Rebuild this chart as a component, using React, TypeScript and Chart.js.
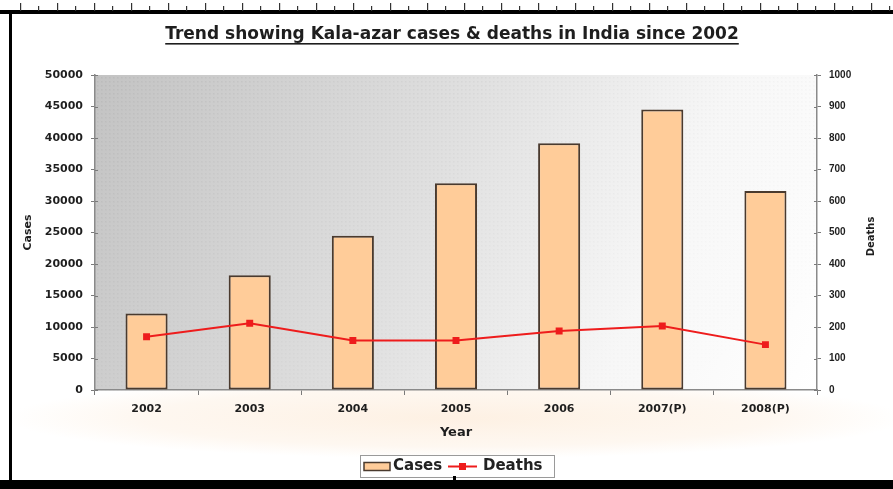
import { useEffect, useRef } from "react";
import { Chart, registerables } from "chart.js";

Chart.register(...registerables);

// Kala-azar in India, yearly totals
const years = ["2002", "2003", "2004", "2005", "2006", "2007(P)", "2008(P)"];
const cases = [12140, 18214, 24479, 32803, 39173, 44533, 31600];
const deaths = [169, 212, 157, 157, 187, 203, 144];

// axis ranges
const casesAxis = { min: 0, max: 50000, step: 5000 };
const deathsAxis = { min: 0, max: 1000, step: 100 };

const TITLE = "Trend showing Kala-azar cases & deaths in India since 2002";
const WIDE = "'DejaVu Sans', sans-serif";
const ARIAL = "'Liberation Sans', Arial, sans-serif";
const BAR_FILL = "#FFCC99";
const BAR_EDGE = "#4a3a2e";
const LINE_RED = "#ee1c1c";

const W = 893;
const H = 489;

const plain = (v: number | string) => String(v);

// page background, plot-area gradient and the picture frame
const decorPlugin = {
  id: "decor",
  beforeDraw(chart: Chart) {
    const { ctx, chartArea: a } = chart;
    ctx.save();
    ctx.fillStyle = "#ffffff";
    ctx.fillRect(0, 0, W, H);

    // faint warm wash round the category labels, fading out at every edge
    ctx.save();
    ctx.beginPath();
    ctx.rect(12, 0, W - 12, H);
    ctx.clip();
    const cxw = (a.left + a.right) / 2;
    ctx.translate(cxw, a.bottom + 28);
    ctx.scale(1, 0.09);
    const wash = ctx.createRadialGradient(0, 0, 0, 0, 0, 450);
    wash.addColorStop(0, "rgba(253,238,222,0.85)");
    wash.addColorStop(0.7, "rgba(253,240,226,0.5)");
    wash.addColorStop(1, "rgba(253,240,226,0)");
    ctx.fillStyle = wash;
    ctx.fillRect(-450, -450, 900, 900);
    ctx.restore();

    // plot area: grey in the upper left fading to white at lower right
    const g = ctx.createLinearGradient(a.left, a.top, a.right, a.bottom);
    g.addColorStop(0, "#c3c3c3");
    g.addColorStop(0.45, "#e0e0e0");
    g.addColorStop(0.75, "#f7f7f7");
    g.addColorStop(1, "#ffffff");
    ctx.fillStyle = g;
    ctx.fillRect(a.left, a.top, a.right - a.left, a.bottom - a.top);

    // halftone dots, densest in the upper left
    for (let y = a.top + 2; y < a.bottom; y += 4) {
      for (let x = a.left + 2; x < a.right; x += 4) {
        const t = (x - a.left) / (a.right - a.left) * 0.6 + (y - a.top) / (a.bottom - a.top) * 0.4;
        const alpha = 0.08 * (1 - t);
        if (alpha <= 0.01) continue;
        ctx.fillStyle = `rgba(90,90,90,${alpha.toFixed(3)})`;
        ctx.fillRect(x, y, 1.5, 1.5);
      }
    }
    ctx.restore();
  },
  afterDraw(chart: Chart) {
    const { ctx, chartArea: a } = chart;
    ctx.save();

    // inner halves of the value-axis tick marks
    ctx.strokeStyle = "#7a7a7a";
    ctx.lineWidth = 1;
    const yl = chart.scales.y;
    const yr = chart.scales.y1;
    yl.ticks.forEach((t) => {
      const py = Math.round(yl.getPixelForValue(t.value)) + 0.5;
      ctx.beginPath();
      ctx.moveTo(a.left, py);
      ctx.lineTo(a.left + 3, py);
      ctx.stroke();
    });
    yr.ticks.forEach((t) => {
      const py = Math.round(yr.getPixelForValue(t.value)) + 0.5;
      ctx.beginPath();
      ctx.moveTo(a.right - 3, py);
      ctx.lineTo(a.right, py);
      ctx.stroke();
    });

    // chart title, underlined
    ctx.fillStyle = "#1e1e1e";
    ctx.font = `bold 17px ${WIDE}`;
    ctx.textAlign = "center";
    ctx.textBaseline = "alphabetic";
    const cx = 452;
    ctx.fillText(TITLE, cx, 39);
    const tw = ctx.measureText(TITLE).width;
    ctx.fillRect(cx - tw / 2, 43, tw, 1.6);

    // axis titles
    ctx.textBaseline = "middle";
    ctx.font = `bold 13px ${WIDE}`;
    ctx.fillText("Year", (a.left + a.right) / 2, 433);

    const midY = (a.top + a.bottom) / 2;
    ctx.save();
    ctx.translate(28, midY);
    ctx.rotate(-Math.PI / 2);
    ctx.font = `bold 11px ${WIDE}`;
    ctx.fillText("Cases", 0, 0);
    ctx.restore();

    ctx.save();
    ctx.translate(871, midY + 4);
    ctx.rotate(-Math.PI / 2);
    ctx.font = `bold 10px ${WIDE}`;
    ctx.fillText("Deaths", 0, 0);
    ctx.restore();

    // legend
    const lx = 360, ly = 455, lw = 194, lh = 22;
    ctx.fillStyle = "#ffffff";
    ctx.fillRect(lx, ly, lw, lh);
    ctx.strokeStyle = "#9a9a9a";
    ctx.lineWidth = 1;
    ctx.strokeRect(lx + 0.5, ly + 0.5, lw, lh);
    const my = ly + lh / 2 + 0.5;
    ctx.fillStyle = BAR_FILL;
    ctx.fillRect(364, my - 4, 26, 8);
    ctx.strokeStyle = BAR_EDGE;
    ctx.lineWidth = 1.5;
    ctx.strokeRect(364, my - 4, 26, 8);
    ctx.fillStyle = "#222";
    ctx.font = `bold 15px ${WIDE}`;
    ctx.textAlign = "left";
    ctx.fillText("Cases", 393, my);
    ctx.strokeStyle = LINE_RED;
    ctx.lineWidth = 2;
    ctx.beginPath();
    ctx.moveTo(448, my);
    ctx.lineTo(477, my);
    ctx.stroke();
    ctx.fillStyle = LINE_RED;
    ctx.fillRect(459, my - 3.5, 7, 7);
    ctx.fillStyle = "#222";
    ctx.fillText("Deaths", 483, my);

    // picture frame: heavy black rules with a ruler edge on top
    ctx.fillStyle = "#000";
    ctx.fillRect(0, 10, W, 4);
    ctx.fillRect(9, 10, 3, H - 10);
    ctx.fillRect(0, 480, W, 9);
    ctx.fillStyle = "#333";
    for (let x = 20; x < W; x += 37) {
      ctx.fillRect(x, 3, 1.2, 8);
      ctx.fillRect(x + 18, 6, 1.2, 5);
    }
    ctx.fillStyle = "#000";
    ctx.fillRect(453, 476, 3, 5);
    ctx.restore();
  },
};

export default function App() {
  const ref = useRef<HTMLCanvasElement | null>(null);

  useEffect(() => {
    const canvas = ref.current;
    if (!canvas) return;
    const chart = new Chart(canvas, {
      type: "bar",
      data: {
        labels: years,
        datasets: [
          {
            type: "line",
            label: "Deaths",
            data: deaths,
            yAxisID: "y1",
            borderColor: LINE_RED,
            backgroundColor: LINE_RED,
            borderWidth: 2,
            pointStyle: "rect",
            pointRadius: 3.5,
            pointBackgroundColor: LINE_RED,
            pointBorderColor: LINE_RED,
            tension: 0,
            order: 1,
          },
          {
            type: "bar",
            label: "Cases",
            data: cases,
            yAxisID: "y",
            backgroundColor: BAR_FILL,
            borderColor: BAR_EDGE,
            borderWidth: 2,
            borderSkipped: false,
            categoryPercentage: 0.8,
            barPercentage: 0.51,
            order: 2,
          },
        ],
      },
      options: {
        responsive: false,
        animation: false,
        devicePixelRatio: 1,
        layout: { padding: { top: 75, left: 0, right: 0, bottom: 0 } },
        plugins: {
          legend: { display: false },
          title: { display: false },
          tooltip: { enabled: false },
        },
        scales: {
          x: {
            offset: true,
            grid: {
              display: true,
              offset: true,
              drawOnChartArea: false,
              drawTicks: true,
              tickLength: 5,
              color: "#7a7a7a",
            },
            border: { display: true, color: "#8a8a8a", width: 1.5 },
            ticks: {
              color: "#1e1e1e",
              font: { family: WIDE, size: 11, weight: "bold" },
              padding: 8,
              maxRotation: 0,
              autoSkip: false,
            },
            afterFit: (s: any) => {
              s.height = 99;
            },
          },
          y: {
            position: "left",
            min: casesAxis.min,
            max: casesAxis.max,
            grid: {
              display: true,
              drawOnChartArea: false,
              drawTicks: true,
              tickLength: 4,
              color: "#7a7a7a",
            },
            border: { display: true, color: "#8a8a8a", width: 1.5 },
            ticks: {
              stepSize: casesAxis.step,
              color: "#1e1e1e",
              font: { family: WIDE, size: 11, weight: "bold" },
              padding: 8,
              callback: plain,
            },
            afterFit: (s: any) => {
              s.width = 95;
            },
          },
          y1: {
            position: "right",
            min: deathsAxis.min,
            max: deathsAxis.max,
            grid: {
              display: true,
              drawOnChartArea: false,
              drawTicks: true,
              tickLength: 4,
              color: "#7a7a7a",
            },
            border: { display: true, color: "#8a8a8a", width: 1.5 },
            ticks: {
              stepSize: deathsAxis.step,
              color: "#1e1e1e",
              font: { family: ARIAL, size: 10, weight: "bold" },
              padding: 8,
              callback: plain,
            },
            afterFit: (s: any) => {
              s.width = 76;
            },
          },
        },
      },
      plugins: [decorPlugin],
    });
    return () => chart.destroy();
  }, []);

  return (
    <div style={{ position: "absolute", left: 0, top: 0, width: W, height: H, background: "#fff" }}>
      <canvas ref={ref} width={W} height={H} style={{ display: "block", width: W, height: H }} />
    </div>
  );
}
